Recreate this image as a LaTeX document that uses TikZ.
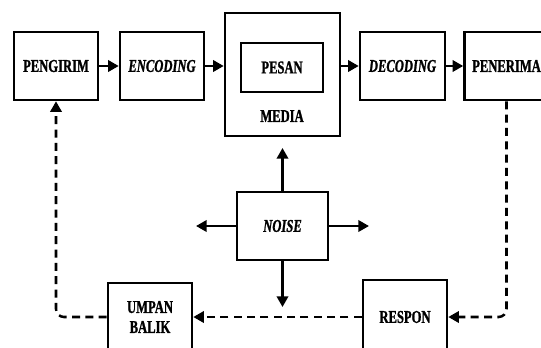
\documentclass[tikz,border=0pt]{standalone}
\usepackage{fontspec}
\newfontfamily\boxfont[FakeStretch=0.7, FakeBold=1.2]{Liberation Serif}
\usetikzlibrary{arrows.meta}

\begin{document}
\begin{tikzpicture}[x=0.75pt, y=-0.75pt,
    box/.style={draw, line width=1.9pt, minimum width=63pt, minimum height=51pt,
        inner sep=0pt, align=center, font=\boxfont\bfseries\fontsize{13.5}{15}\selectfont},
    txt/.style={inner sep=0pt, font=\boxfont\bfseries\fontsize{13.5}{15}\selectfont},
    arr/.style={line width=1.9pt, -{Triangle[length=8pt,width=8.5pt]}},
    fb/.style={arr, dash pattern=on 6pt off 4pt, rounded corners=6pt}]

    \useasboundingbox (0,0) rectangle (541,347);

    % top row
    \node[box] (pengirim) at (56,66) {PENGIRIM};
    \node[box] (encoding) at (162,66) {\itshape ENCODING};
    \node[box, minimum width=86.25pt, minimum height=92.25pt] (media) at (282.5,74.5) {};
    \node[box, minimum width=61.5pt, minimum height=36.75pt] (pesan) at (282,67.5) {PESAN};
    \node[txt] (medialbl) at (282,116) {MEDIA};
    \node[box, minimum width=63.75pt] (decoding) at (402.5,66) {\itshape DECODING};
    \node[box] (penerima) at (506.5,66) {PENERIMA};

    % noise in the middle
    \node[box, minimum width=68.25pt] (noise) at (282.5,226) {\itshape NOISE};
    \coordinate (nup) at (282.5,148);
    \coordinate (ndown) at (282.5,307);
    \coordinate (nleft) at (196,226);
    \coordinate (nright) at (369,226);

    % bottom row
    \node[box, minimum height=55.5pt] (respon) at (405,317) {RESPON};
    \node[box] (umpan) at (150,317) {UMPAN\\BALIK};

    % message flow
    \draw[arr] (pengirim) -- (encoding);
    \draw[arr] (encoding) -- (encoding -| media.west);
    \draw[arr] (media.east |- decoding) -- (decoding);
    \draw[arr] (decoding) -- (penerima);

    % noise arrows
    \draw[arr] (noise) -- (nup);
    \draw[arr] (noise) -- (ndown);
    \draw[arr] (noise) -- (nleft);
    \draw[arr] (noise) -- (nright);

    % feedback
    \draw[fb] (penerima.south) |- (respon.east);
    \draw[fb] (respon.west) -- (umpan.east);
    \draw[fb] (umpan.west) -| (pengirim.south);
\end{tikzpicture}
\end{document}
